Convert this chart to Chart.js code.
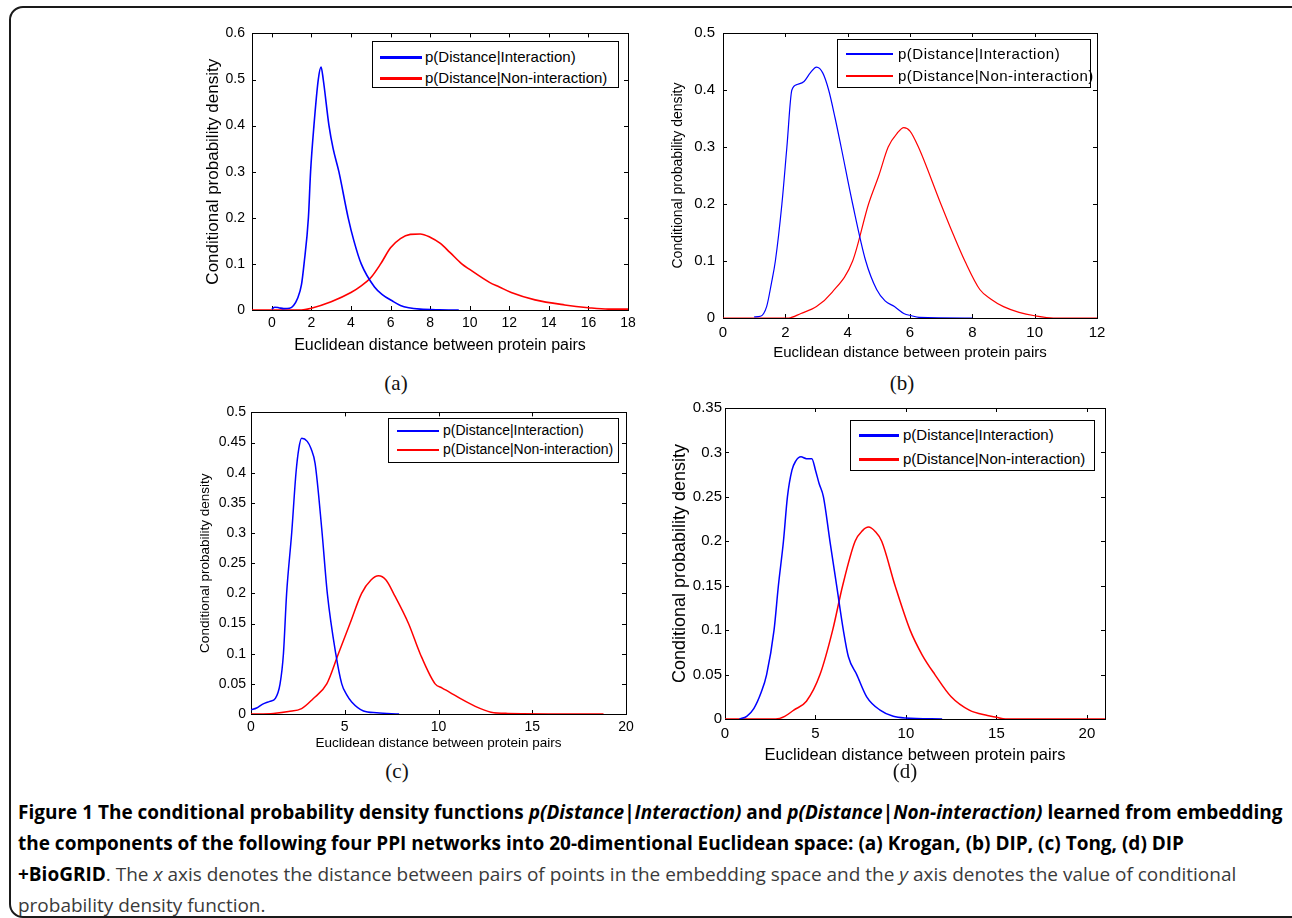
<!DOCTYPE html>
<html>
<head>
<meta charset="utf-8">
<script src="https://cdn.jsdelivr.net/npm/chart.js@4.4.0/dist/chart.umd.min.js"></script>
<style>
body{margin:0;background:#fff;width:1292px;height:918px;overflow:hidden;position:relative;font-family:"Liberation Sans",Arial,sans-serif;}
.frame{position:absolute;left:9px;top:6px;width:1300px;height:908px;border:2px solid #1a1a1a;border-radius:14px;}
canvas{position:absolute;}
.leg{position:absolute;border:1px solid #000;background:#fff;}
.legline{position:absolute;}
.legtxt{position:absolute;white-space:nowrap;color:#000;line-height:1;}
.sub{position:absolute;font-family:"Liberation Serif","Times New Roman",serif;font-size:21px;color:#111;transform:translate(-50%,-50%);}
.cap{position:absolute;left:18px;top:797px;font-family:"Open Sans",sans-serif;font-size:18px;line-height:31px;color:#3a3a3a;}
.cap .l{white-space:nowrap;}
.cap b{color:#000;}
</style>
</head>
<body>
<div class="frame"></div>
<div class="cap" id="cap">
<div class="l" id="cap1"><b>Figure 1 The conditional probability density functions <i>p(Distance|Interaction)</i> and <i>p(Distance|Non-interaction)</i> learned from embedding</b></div>
<div class="l"><b>the components of the following four PPI networks into 20-dimentional Euclidean space: (a) Krogan, (b) DIP, (c) Tong, (d) DIP</b></div>
<div class="l"><b>+BioGRID</b>. The <i>x</i> axis denotes the distance between pairs of points in the embedding space and the <i>y</i> axis denotes the value of conditional</div>
<div class="l">probability density function.</div>
</div>
<script>
var xLabel = "Euclidean distance between protein pairs";
var yLabel = "Conditional probability density";
var seriesNames = ["p(Distance|Interaction)", "p(Distance|Non-interaction)"];
var subLabels = ["(a)", "(b)", "(c)", "(d)"];

// (a) Krogan
var aBlueX = [0, 0.15, 0.35, 0.6, 0.9, 1.1, 1.3, 1.5, 1.63, 1.85, 1.96, 2.13, 2.35, 2.49, 2.6, 2.89, 3.1, 3.39, 3.86, 4.15, 4.52, 5.19, 5.6, 6.08, 6.5, 6.92, 7.5, 8.5, 9.45];
var aBlueY = [0.002, 0.006, 0.005, 0.003, 0.004, 0.01, 0.025, 0.055, 0.1, 0.2, 0.3, 0.4, 0.5, 0.527, 0.5, 0.4, 0.35, 0.3, 0.2, 0.15, 0.1, 0.05, 0.033, 0.02, 0.01, 0.005, 0.002, 0.0005, 0];
var aRedX = [-1, 1.5, 2, 3, 4, 4.5, 5, 5.5, 6, 6.5, 7, 7.5, 8, 8.5, 9, 9.6, 10, 11, 11.5, 12.1, 13.3, 14.8, 16, 17, 18];
var aRedY = [0, 0, 0.004, 0.018, 0.038, 0.052, 0.07, 0.1, 0.135, 0.155, 0.164, 0.165, 0.158, 0.145, 0.125, 0.1, 0.088, 0.06, 0.05, 0.038, 0.022, 0.011, 0.005, 0.002, 0.002];
var aXTicks = [-1, 18, 2];
var aYTicks = [0, 0.6, 0.1];

// (b) DIP
var bBlueX = [1.0, 1.2, 1.4, 1.55, 1.68, 1.89, 2.05, 2.21, 2.4, 2.6, 2.8, 3.0, 3.2, 3.39, 3.6, 3.79, 4.16, 4.58, 4.93, 5.2, 5.5, 5.8, 6.05, 6.3, 8.0];
var bBlueY = [0.002, 0.003, 0.02, 0.06, 0.1, 0.2, 0.3, 0.4, 0.41, 0.415, 0.43, 0.44, 0.43, 0.4, 0.35, 0.3, 0.2, 0.1, 0.05, 0.03, 0.02, 0.008, 0.004, 0.001, 0];
var bRedX = [0, 2.1, 2.5, 3.0, 3.5, 4.16, 4.67, 5.0, 5.3, 5.6, 5.8, 6.0, 6.27, 6.99, 7.4, 7.76, 8.24, 8.6, 9.0, 9.5, 10.0, 10.6, 12];
var bRedY = [0, 0, 0.008, 0.02, 0.045, 0.1, 0.2, 0.25, 0.3, 0.325, 0.334, 0.328, 0.3, 0.2, 0.145, 0.1, 0.05, 0.033, 0.02, 0.01, 0.004, 0, 0];
var bXTicks = [0, 12, 2];
var bYTicks = [0, 0.5, 0.1];

// (c) Tong
var cBlueX = [0, 0.3, 0.6, 1.0, 1.3, 1.55, 1.73, 1.9, 2.17, 2.4, 2.55, 2.7, 3.0, 3.2, 3.42, 3.77, 4.07, 4.52, 4.84, 5.1, 5.37, 6.0, 6.7, 7.9];
var cBlueY = [0.007, 0.01, 0.016, 0.021, 0.026, 0.05, 0.1, 0.2, 0.3, 0.4, 0.44, 0.457, 0.452, 0.44, 0.415, 0.308, 0.2, 0.1, 0.05, 0.032, 0.02, 0.005, 0.002, 0];
var cRedX = [0, 1.2, 2, 2.7, 3.3, 4.04, 4.66, 5.28, 5.9, 6.4, 6.8, 7.2, 7.6, 8.4, 9.02, 9.82, 10.2, 10.6, 11.2, 11.96, 12.8, 13.7, 18.8];
var cRedY = [0, 0.001, 0.004, 0.009, 0.025, 0.05, 0.1, 0.15, 0.2, 0.222, 0.229, 0.222, 0.2, 0.15, 0.1, 0.05, 0.043, 0.036, 0.025, 0.0126, 0.003, 0.001, 0];
var cXTicks = [0, 20, 5];
var cYTicks = [0, 0.5, 0.05];

// (d) DIP+BioGRID
var dBlueX = [0.8, 1.2, 1.6, 2.0, 2.3, 2.71, 2.95, 3.23, 3.45, 3.7, 3.9, 4.2, 4.5, 4.8, 5.0, 5.2, 5.44, 5.8, 6.17, 6.54, 6.82, 7.28, 7.83, 8.57, 9.3, 10, 12];
var dBlueY = [0, 0.003, 0.012, 0.03, 0.05, 0.1, 0.15, 0.2, 0.25, 0.28, 0.29, 0.295, 0.293, 0.293, 0.28, 0.265, 0.25, 0.2, 0.15, 0.1, 0.07, 0.05, 0.025, 0.01, 0.003, 0.001, 0];
var dRedX = [0, 2.8, 3.3, 3.8, 4.5, 5.25, 5.95, 6.5, 7.19, 7.6, 7.93, 8.3, 8.66, 9.4, 10.23, 10.9, 11.6, 12.5, 13.5, 14.5, 15.0, 15.5, 21];
var dRedY = [0, 0, 0.003, 0.01, 0.02, 0.05, 0.1, 0.15, 0.2, 0.212, 0.216, 0.211, 0.2, 0.15, 0.1, 0.072, 0.05, 0.025, 0.01, 0.004, 0.002, 0, 0];
var dXTicks = [0, 21, 5];
var dYTicks = [0, 0.35, 0.05];

// layout of the four panels (page pixels)
var panels = [
  {bx: aBlueX, by: aBlueY, rx: aRedX, ry: aRedY, xt: aXTicks, yt: aYTicks,
   plot: [252, 30, 628, 310], yTitleX: 213, yTitleSize: 17, xTitleY: 345, xTitleSize: 16,
   tickSize: 14, xPad: 5, yPad: 7, lw: 1.6,
   leg: [372, 41, 247, 47], legLine: [380, 422, 3], legText: 425, legRows: [57, 78], legSize: 15, legSpacing: 0,
   sub: [396, 383]},
  {bx: bBlueX, by: bBlueY, rx: bRedX, ry: bRedY, xt: bXTicks, yt: bYTicks,
   plot: [723, 28, 1097, 318], yTitleX: 678, yTitleSize: 14, xTitleY: 353, xTitleSize: 15,
   tickSize: 15, xPad: 6, yPad: 8, lw: 1.2,
   leg: [837, 39, 254, 49], legLine: [846, 893, 1.5], legText: 898, legRows: [54, 76], legSize: 15, legSpacing: 0.5,
   sub: [902, 383]},
  {bx: cBlueX, by: cBlueY, rx: cRedX, ry: cRedY, xt: cXTicks, yt: cYTicks,
   plot: [251, 411, 626, 714], yTitleX: 205, yTitleSize: 13.5, xTitleY: 743, xTitleSize: 13.5,
   tickSize: 14, xPad: 5, yPad: 5, lw: 1.5,
   leg: [388, 418, 231, 45], legLine: [397, 439, 1.5], legText: 443, legRows: [431, 450], legSize: 14, legSpacing: 0,
   sub: [397, 771]},
  {bx: dBlueX, by: dBlueY, rx: dRedX, ry: dRedY, xt: dXTicks, yt: dYTicks,
   plot: [725, 408, 1105, 719], yTitleX: 680, yTitleSize: 18, xTitleY: 755, xTitleSize: 16.5,
   tickSize: 15, xPad: 6, yPad: 3, lw: 1.5,
   leg: [850, 420, 245, 51], legLine: [859, 899, 3], legText: 903, legRows: [435, 459], legSize: 15, legSpacing: 0,
   sub: [905, 771]}
];

// box round the plot area with inward ticks, like MATLAB axes
var boxPlugin = {
  id: 'matlabBox',
  beforeDatasetsDraw: function(chart) {
    var ctx = chart.ctx, a = chart.chartArea, x = chart.scales.x, y = chart.scales.y;
    ctx.save();
    ctx.strokeStyle = '#000';
    ctx.lineWidth = 1;
    ctx.strokeRect(Math.round(a.left) + 0.5, Math.round(a.top) + 0.5, Math.round(a.width), Math.round(a.height));
    ctx.beginPath();
    x.ticks.forEach(function(t) {
      var px = Math.round(x.getPixelForValue(t.value)) + 0.5;
      ctx.moveTo(px, a.bottom); ctx.lineTo(px, a.bottom - 4);
      ctx.moveTo(px, a.top); ctx.lineTo(px, a.top + 4);
    });
    y.ticks.forEach(function(t) {
      var py = Math.round(y.getPixelForValue(t.value)) + 0.5;
      ctx.moveTo(a.left, py); ctx.lineTo(a.left + 4, py);
      ctx.moveTo(a.right, py); ctx.lineTo(a.right - 4, py);
    });
    ctx.stroke();
    ctx.restore();
  }
};

function pts(xs, ys) {
  return xs.map(function(v, i) { return {x: v, y: ys[i]}; });
}

// MATLAB style numbers: 0, 0.1, 0.05 (no padded zeros)
function tickText(v) {
  return String(parseFloat(Number(v).toFixed(4)));
}

function addDiv(cls, css, html) {
  var d = document.createElement('div');
  d.className = cls;
  d.style.cssText = css;
  if (html) d.textContent = html;
  document.body.appendChild(d);
  return d;
}

function makePanel(p, idx) {
  var yLh = p.yTitleSize * 1.2, xLh = p.xTitleSize * 1.2;
  var L = Math.round(p.yTitleX - yLh / 2);
  var T = p.plot[1] - 12;
  var R = p.plot[2] + 16;
  var yW = p.plot[0] - L;
  var xH = Math.round(p.xTitleY + xLh / 2 - p.plot[3]);
  var B = p.plot[3] + xH;
  var cv = document.createElement('canvas');
  cv.width = R - L;
  cv.height = B - T;
  cv.style.left = L + 'px';
  cv.style.top = T + 'px';
  document.body.appendChild(cv);

  new Chart(cv, {
    type: 'line',
    data: {
      datasets: [
        {label: seriesNames[0], data: pts(p.bx, p.by), borderColor: '#0000ff', borderWidth: p.lw,
         pointRadius: 0, cubicInterpolationMode: 'monotone', fill: false},
        {label: seriesNames[1], data: pts(p.rx, p.ry), borderColor: '#ff0000', borderWidth: p.lw,
         pointRadius: 0, cubicInterpolationMode: 'monotone', fill: false}
      ]
    },
    options: {
      responsive: false,
      animation: false,
      devicePixelRatio: 1,
      layout: {padding: {left: 0, top: 12, right: 16, bottom: 0}},
      plugins: {legend: {display: false}, tooltip: {enabled: false}},
      scales: {
        x: {
          type: 'linear', min: p.xt[0], max: p.xt[1],
          ticks: {stepSize: p.xt[2], includeBounds: false, autoSkip: false, maxRotation: 0,
                  padding: p.xPad, color: '#000', font: {size: p.tickSize}, callback: tickText},
          grid: {display: false, drawTicks: false},
          border: {display: false},
          title: {display: true, text: xLabel, color: '#000', padding: 0, font: {size: p.xTitleSize}},
          afterFit: function(s) { s.height = xH; }
        },
        y: {
          type: 'linear', min: p.yt[0], max: p.yt[1],
          ticks: {stepSize: p.yt[2], autoSkip: false, padding: p.yPad, color: '#000', font: {size: p.tickSize}, callback: tickText},
          grid: {display: false, drawTicks: false},
          border: {display: false},
          title: {display: true, text: yLabel, color: '#000', padding: 0, font: {size: p.yTitleSize}},
          afterFit: function(s) { s.width = yW; }
        }
      }
    },
    plugins: [boxPlugin]
  });

  // legend box inside the axes
  addDiv('leg', 'left:' + p.leg[0] + 'px;top:' + p.leg[1] + 'px;width:' + (p.leg[2] - 2) + 'px;height:' + (p.leg[3] - 2) + 'px;');
  var cols = ['#0000ff', '#ff0000'];
  for (var k = 0; k < 2; k++) {
    var ry = p.legRows[k];
    addDiv('legline', 'left:' + p.legLine[0] + 'px;top:' + (ry - p.legLine[2] / 2) + 'px;width:' + (p.legLine[1] - p.legLine[0]) +
      'px;height:' + p.legLine[2] + 'px;background:' + cols[k] + ';');
    addDiv('legtxt', 'left:' + p.legText + 'px;top:' + (ry - p.legSize * 0.55) + 'px;font-size:' + p.legSize +
      'px;letter-spacing:' + p.legSpacing + 'px;', seriesNames[k]);
  }
  addDiv('sub', 'left:' + p.sub[0] + 'px;top:' + p.sub[1] + 'px;', subLabels[idx]);
}

panels.forEach(makePanel);

// fit caption to the width of the reference's first line
var c1 = document.getElementById('cap1');
var w = c1.scrollWidth;
document.getElementById('cap').style.fontSize = (18 * 1265 / w) + 'px';
</script>
</body>
</html>
